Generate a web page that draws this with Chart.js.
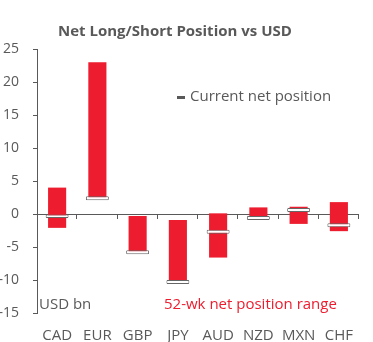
<!DOCTYPE html>
<html>
<head>
    <script src="https://cdn.jsdelivr.net/npm/chart.js@4.4.1/dist/chart.umd.min.js"></script>
    <style>
        html, body { margin: 0; padding: 0; background: #fff; }
        #wrap { width: 373px; height: 342px; }
    </style>
</head>
<body>
<div id="wrap"><canvas id="myChart"></canvas></div>
<script>
    // values (USD bn)
    const currencies = ['CAD', 'EUR', 'GBP', 'JPY', 'AUD', 'NZD', 'MXN', 'CHF'];
    const rangeLow  = [-2.1, 2.4, -5.8, -10.3, -6.6, -0.6, -1.5, -2.6];
    const rangeHigh = [4.0, 23.0, -0.3, -0.9, 0.1, 1.0, 1.1, 1.8];
    const currentPos = [-0.3, 2.4, -5.8, -10.3, -2.7, -0.6, 0.6, -1.7];
    const yTicks = [-15, -10, -5, 0, 5, 10, 15, 20, 25];

    const gray = '#595959';
    const red = '#ED1C2E';
    const font = 'Open Sans';
    const markerHalf = 0.3;

    // draws the zero-line ticks, title and the in-chart notes
    const extras = {
        id: 'extras',
        afterDatasetsDraw(chart) {
            const ctx = chart.ctx;
            const x = chart.scales.x, y = chart.scales.y;
            const y0 = y.getPixelForValue(0);
            const step = x.getPixelForValue(1) - x.getPixelForValue(0);
            ctx.save();
            ctx.strokeStyle = gray;
            ctx.lineWidth = 1;
            for (let i = 0; i < currencies.length; i++) {
                const bx = Math.round(x.getPixelForValue(i) + step / 2) - 0.5;
                ctx.beginPath();
                ctx.moveTo(bx, y0);
                ctx.lineTo(bx, y0 + 5);
                ctx.stroke();
            }
            ctx.restore();
        },
        afterDraw(chart) {
            const ctx = chart.ctx;
            const area = chart.chartArea;
            ctx.save();
            ctx.textBaseline = 'middle';
            ctx.fillStyle = gray;
            ctx.font = 'bold 15px "' + font + '"';
            ctx.textAlign = 'left';
            ctx.fillText('Net Long/Short Position vs USD', 58, 32);

            ctx.font = '15px "' + font + '"';
            ctx.fillRect(177, 96, 8, 3);
            ctx.fillText('Current net position', 190, 97);

            ctx.fillText('USD bn', area.left + 2, 305);
            ctx.fillStyle = red;
            ctx.fillText('52-wk net position range', 164, 305);
            ctx.restore();
        }
    };

    const ctx = document.getElementById('myChart').getContext('2d');
    const myChart = new Chart(ctx, {
        type: 'bar',
        data: {
            labels: currencies,
            datasets: [
                {
                    label: '52-wk net position range',
                    data: currencies.map((c, i) => [rangeLow[i], rangeHigh[i]]),
                    backgroundColor: red,
                    borderWidth: 0,
                    barPercentage: 0.45,
                    categoryPercentage: 1,
                    grouped: false,
                    order: 2
                },
                {
                    label: 'Current net position',
                    data: currentPos.map(v => [v - markerHalf, v + markerHalf]),
                    backgroundColor: '#ffffff',
                    borderColor: '#666666',
                    borderWidth: 1,
                    borderSkipped: false,
                    borderRadius: 1,
                    barPercentage: 0.57,
                    categoryPercentage: 1,
                    grouped: false,
                    order: 1
                }
            ]
        },
        options: {
            responsive: true,
            maintainAspectRatio: false,
            animation: false,
            layout: { padding: { top: 49, right: 14, left: 0, bottom: 0 } },
            plugins: {
                legend: { display: false },
                title: { display: false },
                tooltip: { enabled: false }
            },
            scales: {
                x: {
                    afterFit: axis => { axis.height = 29; },
                    grid: { display: false, drawTicks: false },
                    border: { display: false },
                    ticks: {
                        color: gray, padding: 14, maxRotation: 0, minRotation: 0, autoSkip: false,
                        font: { family: font, size: 15 }
                    }
                },
                y: {
                    min: -15,
                    max: 25,
                    afterFit: axis => { axis.width = 37; },
                    afterBuildTicks: axis => { axis.ticks = yTicks.map(v => ({ value: v })); },
                    grid: {
                        color: c => (c.tick && c.tick.value === 0) ? gray : 'transparent',
                        tickColor: gray,
                        tickLength: 4
                    },
                    border: { display: true, color: gray, width: 1 },
                    ticks: { color: gray, padding: 14, font: { family: font, size: 14 } }
                }
            }
        },
        plugins: [extras]
    });
</script>
</body>
</html>
